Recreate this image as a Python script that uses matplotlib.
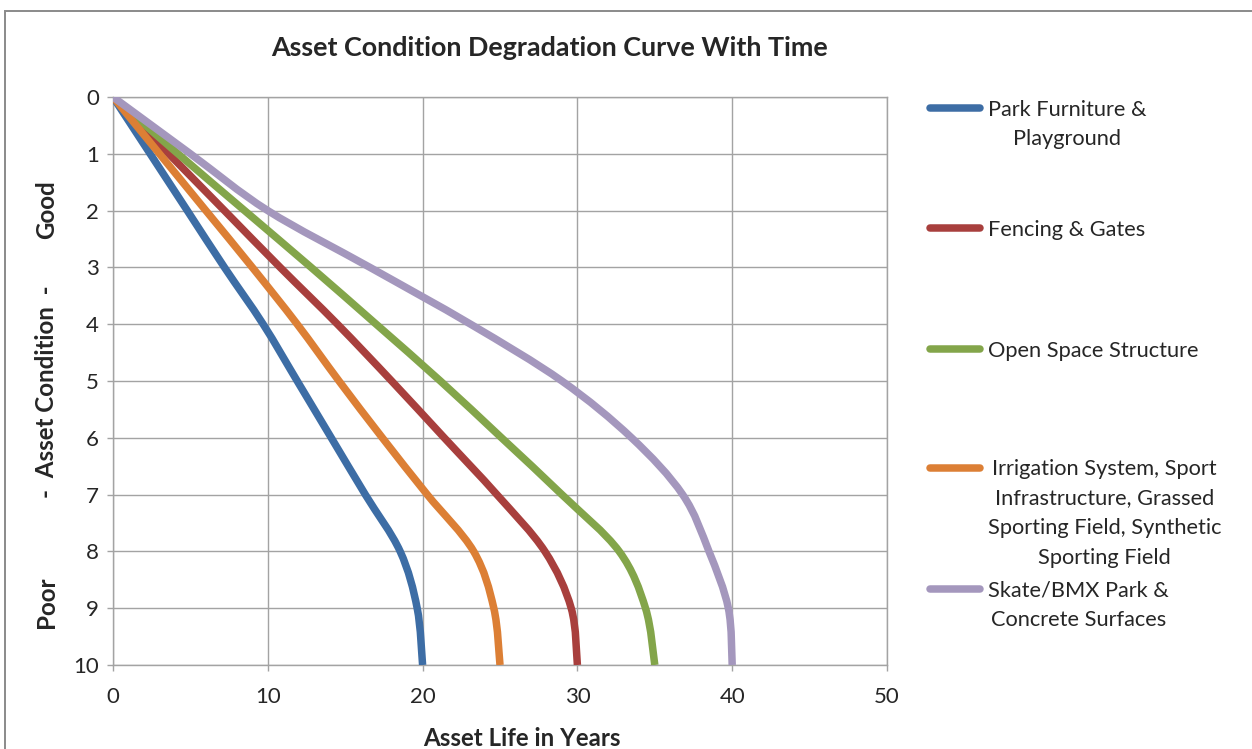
import numpy as np
import matplotlib
matplotlib.use("Agg")
import matplotlib.pyplot as plt
from matplotlib.path import Path
from matplotlib.patches import PathPatch, Rectangle
from matplotlib.lines import Line2D

# Condition scale (0 = new / good, 10 = end of life / poor)
condition = [0, 1, 2, 3, 4, 5, 6, 7, 8, 9, 10]

# Years at which each asset group reaches each condition level
park_furniture_years = [0, 2.4, 4.8, 7.2, 9.7, 11.9, 14.1, 16.3, 18.55, 19.65, 20]
fencing_years = [0, 3.6, 7.2, 10.8, 14.5, 18.0, 21.4, 24.8, 27.9, 29.6, 30]
open_space_years = [0, 4.2, 8.5, 12.8, 17.0, 21.15, 25.1, 29.0, 32.7, 34.4, 35]
irrigation_years = [0, 3.0, 6.0, 9.0, 11.9, 14.6, 17.4, 20.3, 23.3, 24.6, 25]
skate_years = [0, 5.0, 10.0, 16.6, 23.1, 29.0, 33.5, 36.8, 38.5, 39.75, 40]

series_labels = [
    "Park Furniture &\nPlayground",
    "Fencing & Gates",
    "Open Space Structure",
    "Irrigation System, Sport\nInfrastructure, Grassed\nSporting Field, Synthetic\nSporting Field",
    "Skate/BMX Park &\nConcrete Surfaces",
]
series_colors = ["#3D6DA5", "#A83F3D", "#83A54A", "#DC7F35", "#A497BD"]
series_years = [park_furniture_years, fencing_years, open_space_years,
                irrigation_years, skate_years]

x_ticks = [0, 10, 20, 30, 40, 50]
y_ticks = condition

W, H = 1252, 749
FONT = "Lato"
plt.rcParams["font.family"] = [FONT, "DejaVu Sans"]
TEXT = "#262626"
GRID = "#a3a3a3"


def smooth_path(xs, ys, tension=1.0 / 6.0):
    """Cubic Bezier path through the points (cardinal-spline smoothing)."""
    pts = np.column_stack([xs, ys]).astype(float)
    n = len(pts)
    verts = [pts[0]]
    codes = [Path.MOVETO]
    for i in range(n - 1):
        p_prev = pts[max(i - 1, 0)]
        p0 = pts[i]
        p1 = pts[i + 1]
        p_next = pts[min(i + 2, n - 1)]
        c1 = p0 + (p1 - p_prev) * tension
        c2 = p1 - (p_next - p0) * tension
        verts += [c1, c2, p1]
        codes += [Path.CURVE4] * 3
    return Path(verts, codes)


def fx(px):
    return px / W


def fy(py):
    return 1 - py / H


fig = plt.figure(figsize=(W / 100, H / 100), dpi=100)
fig.patch.set_facecolor("white")

# Chart-area frame
fig.add_artist(Rectangle((fx(5), fy(800)), fx(1300), fy(11) - fy(800),
                         transform=fig.transFigure, fill=False,
                         edgecolor="#8a8a8a", linewidth=1.4))

ax = fig.add_axes([fx(113), fy(665), fx(887) - fx(113), fy(97) - fy(665)])
ax.set_xlim(0, 50)
ax.set_ylim(10, 0)
ax.set_xticks(x_ticks)
ax.set_yticks(y_ticks)
ax.grid(True, color=GRID, linewidth=1.0)
ax.set_axisbelow(True)
for sp in ax.spines.values():
    sp.set_color(GRID)
    sp.set_linewidth(1.0)
ax.tick_params(axis="both", colors=GRID, length=4, width=1.0,
               labelcolor=TEXT, labelsize=16)
ax.tick_params(axis="y", pad=6)
ax.tick_params(axis="x", pad=12)

for years, color in zip(series_years, series_colors):
    patch = PathPatch(smooth_path(years, condition), fill=False,
                      edgecolor=color, linewidth=5.4, capstyle="butt",
                      joinstyle="round", zorder=3)
    ax.add_patch(patch)

# Title and axis titles
fig.text(fx(550), fy(48), "Asset Condition Degradation Curve With Time",
         ha="center", va="center", fontsize=19.4, fontweight="bold", color=TEXT)
fig.text(fx(522), fy(738), "Asset Life in Years", ha="center", va="center",
         fontsize=17.4, fontweight="bold", color=TEXT)
for txt, yc in [("Good", 210), ("-  Asset Condition  -", 392), ("Poor", 602)]:
    fig.text(fx(47), fy(yc), txt, ha="center", va="center", rotation=90,
             fontsize=17.4, fontweight="bold", color=TEXT)

# Legend
LINE_STEP = 29
legend_rows = [108, 228, 349, 468, 589]
for label, color, yrow in zip(series_labels, series_colors, legend_rows):
    fig.add_artist(Line2D([fx(930), fx(980)], [fy(yrow), fy(yrow)],
                          transform=fig.transFigure, color=color,
                          linewidth=5.4, solid_capstyle="round"))
    n_lines = label.count("\n") + 1
    yc = yrow + 2 + (n_lines - 1) * LINE_STEP / 2
    fig.text(fx(988), fy(yc), label, ha="left", va="center",
             multialignment="center", fontsize=15.7, color=TEXT,
             linespacing=1.62)

fig.savefig("out.png", dpi=100, facecolor="white")
